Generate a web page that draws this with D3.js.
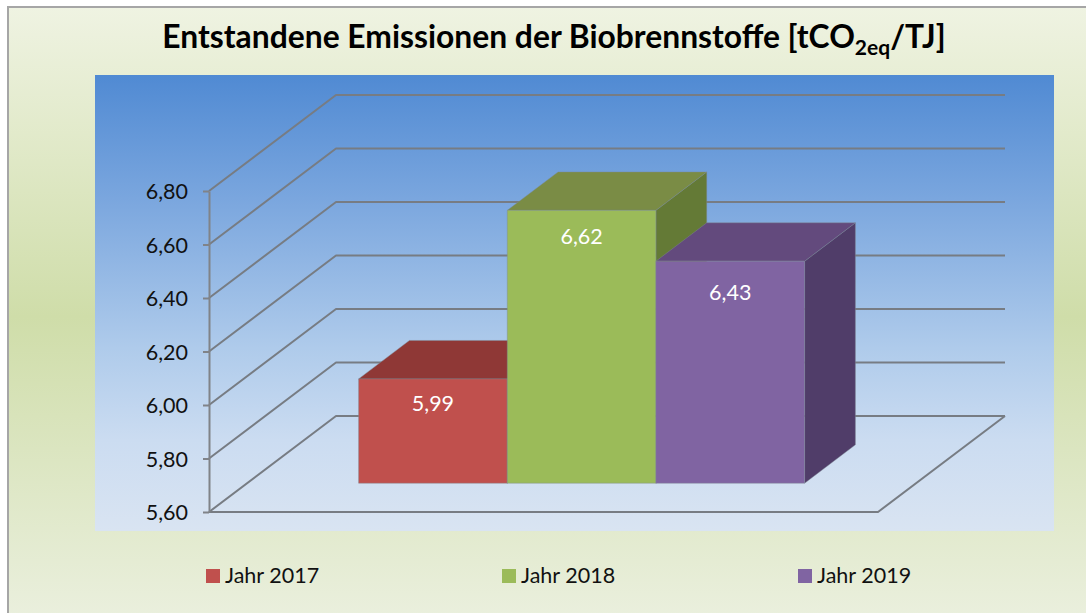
<!DOCTYPE html>
<meta charset="utf-8">
<style>
body { margin: 0; padding: 0; background: #fff; }
svg { display: block; font-family: Lato, "Open Sans", sans-serif; }
.wall { fill: none; stroke: #777c83; stroke-width: 2px; stroke-linejoin: round; }
.axis path, .axis line { stroke: #808388; stroke-width: 2px; }
.axis text { font-size: 21.5px; fill: #111; font-family: Lato, sans-serif; }
.front, .top, .side { stroke: #7f8a94; stroke-opacity: .55; stroke-width: .8px; }
.value { fill: #fff; font-size: 21.5px; text-anchor: middle; }
.legend { font-size: 21.5px; fill: #111; }
.title { font-size: 31.8px; font-weight: 700; fill: #000; text-anchor: middle; }
</style>
<svg id="chart" width="1086" height="613"></svg>
<script src="https://d3js.org/d3.v7.min.js"></script>
<script>
var categories = ["Jahr 2017", "Jahr 2018", "Jahr 2019"];
var values = [5.99, 6.62, 6.43];
var yTicks = [5.6, 5.8, 6.0, 6.2, 6.4, 6.6, 6.8];
var frontColors = ["#c0504d", "#9bbb59", "#8064a2"];
var topColors = ["#8f3836", "#7a8c45", "#634a7d"];
var sideColors = ["#8f3836", "#647a36", "#503d69"];

// oblique projection of the 3d box
var depthX = 127,
    depthY = 96,
    barZ0 = 0.30,
    barZ1 = 0.70;

var x = d3.scaleBand().domain(categories).range([209, 878]).paddingInner(0).paddingOuter(0.75);
var y = d3.scaleLinear().domain([5.6, 6.8]).range([512, 191]);
var comma = function(d) { return d.toFixed(2).replace(".", ","); };

function pt(px, v, z) {
  return [px + z * depthX, y(v) - z * depthY];
}

var svg = d3.select("#chart");
var defs = svg.append("defs");

var bg = defs.append("linearGradient").attr("id", "bg").attr("x2", 0).attr("y2", 1);
bg.append("stop").attr("offset", 0).attr("stop-color", "#eff3e2");
bg.append("stop").attr("offset", 0.5).attr("stop-color", "#cfdda9");
bg.append("stop").attr("offset", 1).attr("stop-color", "#ebf0df");

var plotBg = defs.append("linearGradient").attr("id", "plotBg").attr("x2", 0).attr("y2", 1);
plotBg.append("stop").attr("offset", 0).attr("stop-color", "#508ad3");
plotBg.append("stop").attr("offset", 0.27).attr("stop-color", "#7aa6de");
plotBg.append("stop").attr("offset", 0.6).attr("stop-color", "#afcbeb");
plotBg.append("stop").attr("offset", 0.8).attr("stop-color", "#cbdcf1");
plotBg.append("stop").attr("offset", 1).attr("stop-color", "#d9e4f2");

svg.append("rect")
    .attr("x", 8).attr("y", 7)
    .attr("width", 1090).attr("height", 620)
    .attr("fill", "url(#bg)")
    .attr("stroke", "#a6a6a6")
    .attr("stroke-width", 2);

svg.append("rect")
    .attr("x", 95).attr("y", 75)
    .attr("width", 959).attr("height", 456)
    .attr("fill", "url(#plotBg)");

var line = d3.line();

// grid on side wall and back wall
svg.selectAll(".wall")
    .data(yTicks)
  .enter().append("path")
    .attr("class", "wall")
    .attr("d", function(d) {
      return line([pt(209, d, 0), pt(209, d, 1), pt(878, d, 1)]);
    });

// floor
svg.append("path")
    .attr("class", "wall")
    .attr("d", line([pt(209, 5.6, 0), pt(878, 5.6, 0), pt(878, 5.6, 1)]));

var yAxis = d3.axisLeft(y).tickValues(yTicks).tickFormat(comma).tickSize(6).tickSizeOuter(0).tickPadding(15);
var axisG = svg.append("g")
    .attr("class", "axis")
    .attr("transform", "translate(209,0)")
    .call(yAxis);
axisG.selectAll("text").attr("y", 1);

var bars = svg.selectAll(".bar")
    .data(categories)
  .enter().append("g")
    .attr("class", "bar");

function poly(corners) {
  return line(corners) + "Z";
}

bars.append("path")
    .attr("class", "side")
    .attr("fill", function(d, i) { return sideColors[i]; })
    .attr("d", function(d, i) {
      var r = x(d) + x.bandwidth();
      return poly([pt(r, values[i], barZ0), pt(r, values[i], barZ1), pt(r, 5.6, barZ1), pt(r, 5.6, barZ0)]);
    });

bars.append("path")
    .attr("class", "top")
    .attr("fill", function(d, i) { return topColors[i]; })
    .attr("d", function(d, i) {
      var l = x(d), r = l + x.bandwidth();
      return poly([pt(l, values[i], barZ0), pt(l, values[i], barZ1), pt(r, values[i], barZ1), pt(r, values[i], barZ0)]);
    });

bars.append("path")
    .attr("class", "front")
    .attr("fill", function(d, i) { return frontColors[i]; })
    .attr("d", function(d, i) {
      var l = x(d), r = l + x.bandwidth();
      return poly([pt(l, values[i], barZ0), pt(r, values[i], barZ0), pt(r, 5.6, barZ0), pt(l, 5.6, barZ0)]);
    });

var labelDrop = [32, 34, 39];

bars.append("text")
    .attr("class", "value")
    .attr("x", function(d) { return pt(x(d) + x.bandwidth() / 2, 5.6, barZ0)[0]; })
    .attr("y", function(d, i) { return pt(0, values[i], barZ0)[1] + labelDrop[i]; })
    .text(function(d, i) { return comma(values[i]); });

var title = svg.append("text")
    .attr("class", "title")
    .attr("x", 554)
    .attr("y", 48);
title.append("tspan").text("Entstandene Emissionen der Biobrennstoffe [tCO");
title.append("tspan").attr("dy", 7).style("font-size", "21px").text("2eq");
title.append("tspan").attr("dy", -7).text("/TJ]");

var legendX = d3.scalePoint().domain(categories).range([206, 798]);

var legend = svg.selectAll(".legendItem")
    .data(categories)
  .enter().append("g")
    .attr("class", "legendItem")
    .attr("transform", function(d) { return "translate(" + legendX(d) + ",569)"; });

legend.append("rect")
    .attr("width", 14)
    .attr("height", 14)
    .attr("fill", function(d, i) { return frontColors[i]; });

legend.append("text")
    .attr("class", "legend")
    .attr("x", 19)
    .attr("y", 14)
    .text(function(d) { return d; });
</script>
